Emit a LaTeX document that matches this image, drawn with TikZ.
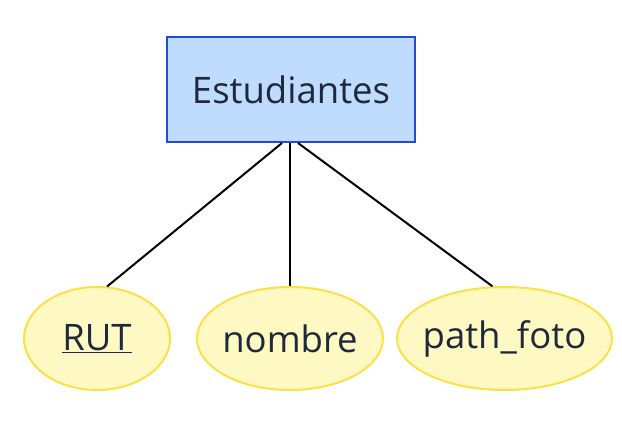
\documentclass[tikz,border=0pt]{standalone}
\usepackage{fontspec}
\setmainfont{Open Sans}
\usetikzlibrary{shapes.geometric}
\definecolor{entfill}{HTML}{BFDBFE}
\definecolor{entdraw}{HTML}{1D4ED8}
\definecolor{attfill}{HTML}{FEF9C3}
\definecolor{attdraw}{HTML}{FDE047}
\definecolor{txt}{HTML}{1E293B}
\newcommand{\attxt}[1]{\makebox[0pt]{#1}}

\begin{document}
\begin{tikzpicture}[x=1pt,y=-1pt,
  entidad/.style={draw=entdraw,fill=entfill,line width=2pt,minimum width=248pt,minimum height=105pt,text=txt,font=\fontsize{36.5}{40}\selectfont},
  atributo/.style={ellipse,draw=attdraw,fill=attfill,line width=2pt,minimum height=103pt,inner sep=0pt,text=txt,font=\fontsize{36.5}{40}\selectfont},
  enlace/.style={line width=2pt}]
  \useasboundingbox (0,0) rectangle (622,441);
  %entidad
  \node[entidad] (est) at (291,89.5) {Estudiantes};
  %atributos
  \node[atributo,minimum width=146pt] (rut) at (97,338.5) {\attxt{\underline{RUT}}};
  \node[atributo,minimum width=186pt] (nombre) at (290,338.5) {\attxt{nombre}};
  \node[atributo,minimum width=215pt] (foto) at (504.5,338.5) {\attxt{path\_foto}};
  %enlaces
  \draw[enlace] ([xshift=-9pt]est.south) -- (rut.79);
  \draw[enlace] ([xshift=-1pt]est.south) -- (nombre.90);
  \draw[enlace] ([xshift=7pt]est.south) -- (foto.103);
\end{tikzpicture}
\end{document}
